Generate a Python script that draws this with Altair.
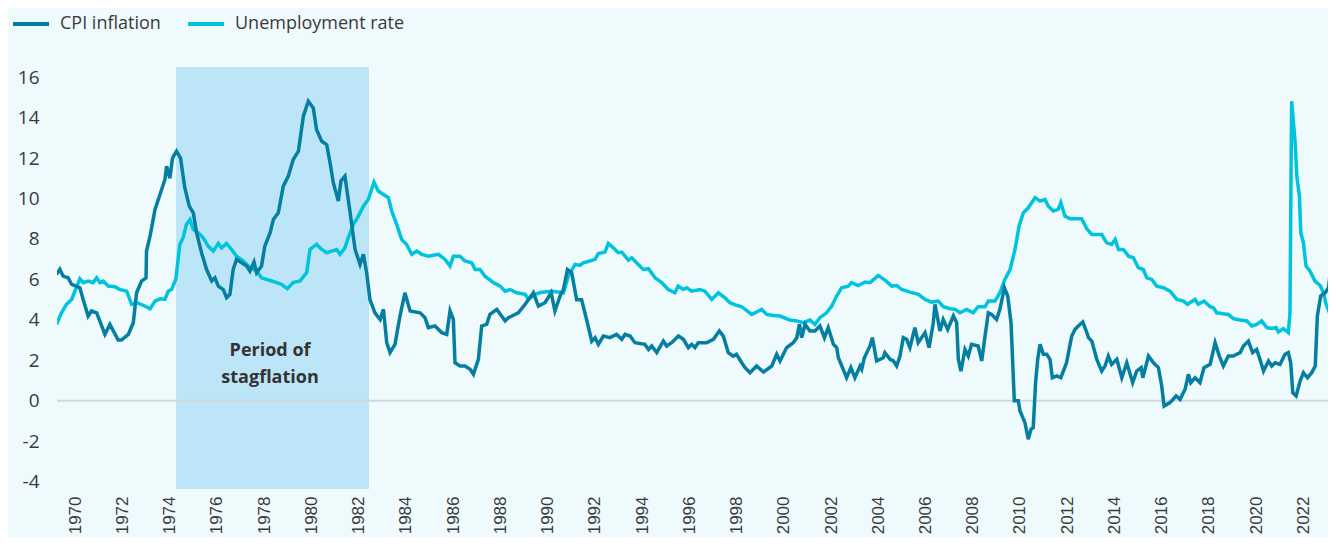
import altair as alt
import pandas as pd

# ---- data ----
cpi_years = [1969.21, 1969.35, 1969.49, 1969.70, 1969.85, 1970.20, 1970.34, 1970.55, 1970.69, 1970.91,
             1971.26, 1971.47, 1971.82, 1971.96, 1972.25, 1972.46, 1972.60, 1972.81, 1973.00, 1973.02,
             1973.17, 1973.38, 1973.59, 1973.80, 1973.87, 1974.01, 1974.12, 1974.29, 1974.46, 1974.64,
             1974.83, 1975.00, 1975.14, 1975.35, 1975.56, 1975.78, 1975.92, 1976.06, 1976.27, 1976.41,
             1976.55, 1976.69, 1976.83, 1977.05, 1977.26, 1977.40, 1977.57, 1977.68, 1977.89, 1978.03,
             1978.25, 1978.39, 1978.60, 1978.81, 1979.02, 1979.23, 1979.45, 1979.66, 1979.87, 1980.08,
             1980.22, 1980.44, 1980.65, 1980.79, 1980.93, 1981.14, 1981.25, 1981.42, 1981.64, 1981.85,
             1982.06, 1982.20, 1982.34, 1982.48, 1982.69, 1982.91, 1983.05, 1983.19, 1983.33, 1983.54,
             1983.75, 1983.96, 1984.18, 1984.60, 1984.81, 1984.95, 1985.23, 1985.52, 1985.73, 1985.87,
             1986.01, 1986.08, 1986.29, 1986.50, 1986.72, 1986.86, 1987.07, 1987.21, 1987.42, 1987.56,
             1987.85, 1988.20, 1988.34, 1988.76, 1989.05, 1989.40, 1989.61, 1989.89, 1990.15, 1990.31,
             1990.53, 1990.67, 1990.84, 1991.02, 1991.23, 1991.44, 1991.65, 1991.87, 1992.01, 1992.15,
             1992.36, 1992.64, 1992.92, 1993.14, 1993.28, 1993.49, 1993.70, 1994.12, 1994.27, 1994.41,
             1994.62, 1994.90, 1995.04, 1995.25, 1995.54, 1995.75, 1995.96, 1996.10, 1996.24, 1996.38,
             1996.73, 1997.02, 1997.27, 1997.44, 1997.65, 1997.86, 1998.00, 1998.22, 1998.36, 1998.57,
             1998.85, 1999.14, 1999.49, 1999.70, 1999.84, 2000.12, 2000.40, 2000.55, 2000.66, 2000.76,
             2000.90, 2001.11, 2001.32, 2001.53, 2001.72, 2001.88, 2002.10, 2002.24, 2002.31, 2002.66,
             2002.84, 2003.01, 2003.23, 2003.30, 2003.41, 2003.65, 2003.75, 2003.93, 2004.21, 2004.28,
             2004.50, 2004.64, 2004.78, 2004.92, 2005.06, 2005.20, 2005.34, 2005.55, 2005.69, 2005.98,
             2006.15, 2006.33, 2006.40, 2006.51, 2006.61, 2006.75, 2006.94, 2007.18, 2007.32, 2007.39,
             2007.50, 2007.67, 2007.81, 2007.95, 2008.23, 2008.38, 2008.52, 2008.66, 2008.80, 2009.01,
             2009.15, 2009.34, 2009.48, 2009.62, 2009.76, 2009.93, 2010.00, 2010.21, 2010.35, 2010.47,
             2010.56, 2010.66, 2010.75, 2010.85, 2010.99, 2011.13, 2011.27, 2011.37, 2011.55, 2011.73,
             2011.97, 2012.19, 2012.33, 2012.47, 2012.66, 2012.83, 2012.90, 2013.04, 2013.25, 2013.46,
             2013.60, 2013.74, 2013.88, 2014.10, 2014.31, 2014.52, 2014.77, 2014.94, 2015.13, 2015.20,
             2015.44, 2015.65, 2015.86, 2016.00, 2016.10, 2016.35, 2016.61, 2016.78, 2016.99, 2017.13,
             2017.23, 2017.41, 2017.62, 2017.79, 2018.05, 2018.26, 2018.44, 2018.61, 2018.82, 2019.03,
             2019.32, 2019.46, 2019.67, 2019.85, 2020.02, 2020.16, 2020.31, 2020.52, 2020.66, 2020.80,
             2021.01, 2021.22, 2021.36, 2021.46, 2021.55, 2021.69, 2021.86, 2022.00, 2022.17, 2022.35,
             2022.50, 2022.59, 2022.73, 2022.92, 2023.06, 2023.20, 2023.38]
cpi_values = [6.25, 6.5, 6.16, 6.08, 5.75, 5.59, 5.0, 4.19, 4.44, 4.35,
              3.28, 3.78, 3.0, 3.0, 3.28, 3.86, 5.34, 5.92, 6.08, 7.4,
              8.14, 9.46, 10.2, 10.94, 11.6, 11.0, 12.0, 12.34, 12.0, 10.53,
              9.62, 9.29, 8.3, 7.32, 6.5, 5.92, 6.08, 5.67, 5.5, 5.1,
              5.26, 6.5, 6.99, 6.82, 6.66, 6.41, 6.86, 6.33, 6.66, 7.65,
              8.3, 8.96, 9.29, 10.61, 11.1, 11.92, 12.34, 14.07, 14.81, 14.48,
              13.4, 12.83, 12.66, 11.76, 10.77, 9.87, 10.86, 11.1, 9.29, 7.48,
              6.74, 7.24, 6.33, 5.0, 4.35, 4.02, 4.52, 2.87, 2.38, 2.79,
              4.19, 5.34, 4.44, 4.35, 4.11, 3.62, 3.7, 3.37, 3.28, 4.44,
              4.02, 1.88, 1.72, 1.72, 1.56, 1.31, 2.05, 3.7, 3.78, 4.27,
              4.52, 3.95, 4.11, 4.35, 4.77, 5.34, 4.68, 4.85, 5.34, 4.44,
              5.18, 5.5, 6.49, 6.33, 5.0, 5.0, 4.02, 2.95, 3.12, 2.79,
              3.2, 3.12, 3.28, 3.04, 3.28, 3.2, 2.87, 2.79, 2.54, 2.71,
              2.38, 2.95, 2.71, 2.87, 3.2, 3.04, 2.63, 2.79, 2.63, 2.87,
              2.87, 3.04, 3.45, 3.2, 2.38, 2.21, 2.3, 1.88, 1.64, 1.39,
              1.72, 1.42, 1.72, 2.3, 1.97, 2.63, 2.87, 3.12, 3.78, 3.12,
              3.78, 3.45, 3.45, 3.7, 3.12, 3.62, 2.79, 2.63, 2.13, 1.14,
              1.64, 1.14, 1.72, 1.56, 2.13, 2.71, 3.12, 1.97, 2.13, 2.38,
              2.05, 1.97, 1.72, 2.21, 3.12, 3.04, 2.63, 3.62, 2.87, 3.37,
              2.63, 3.86, 4.77, 4.11, 3.45, 4.02, 3.53, 4.19, 3.86, 2.05,
              1.47, 2.54, 2.21, 2.79, 2.71, 1.97, 3.2, 4.35, 4.27, 4.02,
              4.52, 5.59, 5.18, 3.86, 0.0, 0.0, -0.5, -1.08, -1.9, -1.4,
              -1.33, 0.9, 2.05, 2.79, 2.3, 2.3, 2.05, 1.14, 1.23, 1.14,
              1.88, 3.2, 3.53, 3.7, 3.9, 3.37, 3.12, 2.95, 2.05, 1.47,
              1.72, 2.21, 1.8, 2.05, 1.14, 1.88, 0.9, 1.47, 1.64, 1.14,
              2.21, 1.88, 1.64, 0.73, -0.26, -0.09, 0.24, 0.07, 0.57, 1.31,
              0.9, 1.14, 0.9, 1.64, 1.8, 2.87, 2.21, 1.72, 2.21, 2.21,
              2.38, 2.71, 2.95, 2.38, 2.54, 2.05, 1.47, 1.97, 1.72, 1.88,
              1.8, 2.3, 2.38, 1.88, 0.4, 0.24, 0.98, 1.39, 1.14, 1.39,
              1.72, 4.19, 5.18, 5.34, 5.59, 6.91, 7.81]

unemp_years = [1969.21, 1969.42, 1969.63, 1969.85, 1969.99, 1970.20, 1970.34, 1970.55, 1970.76, 1970.91,
               1971.05, 1971.19, 1971.40, 1971.68, 1971.89, 1972.18, 1972.39, 1972.60, 1972.88, 1973.17,
               1973.38, 1973.59, 1973.80, 1973.94, 1974.08, 1974.26, 1974.43, 1974.57, 1974.71, 1974.86,
               1975.00, 1975.21, 1975.42, 1975.63, 1975.85, 1976.06, 1976.20, 1976.41, 1976.62, 1976.83,
               1977.12, 1977.33, 1977.68, 1977.89, 1978.10, 1978.32, 1978.53, 1978.74, 1978.98, 1979.23,
               1979.52, 1979.73, 1979.80, 1979.94, 1980.22, 1980.44, 1980.65, 1980.86, 1981.07, 1981.21,
               1981.42, 1981.56, 1981.78, 1981.99, 1982.20, 1982.41, 1982.65, 1982.83, 1983.05, 1983.26,
               1983.40, 1983.61, 1983.82, 1984.03, 1984.25, 1984.46, 1984.67, 1984.95, 1985.38, 1985.66,
               1985.87, 1986.01, 1986.29, 1986.50, 1986.79, 1986.93, 1987.14, 1987.35, 1987.71, 1987.99,
               1988.20, 1988.41, 1988.69, 1989.05, 1989.19, 1989.47, 1989.75, 1990.17, 1990.53, 1990.67,
               1990.88, 1991.16, 1991.37, 1991.51, 1991.79, 1992.01, 1992.15, 1992.43, 1992.57, 1992.78,
               1992.99, 1993.14, 1993.42, 1993.56, 1993.84, 1994.05, 1994.27, 1994.55, 1994.83, 1995.11,
               1995.39, 1995.53, 1995.75, 1995.89, 1996.10, 1996.45, 1996.66, 1996.95, 1997.23, 1997.51,
               1997.72, 1998.00, 1998.22, 1998.64, 1998.85, 1999.06, 1999.28, 1999.56, 1999.84, 2000.26,
               2000.55, 2000.83, 2001.11, 2001.32, 2001.53, 2001.81, 2002.03, 2002.24, 2002.45, 2002.73,
               2002.87, 2003.15, 2003.44, 2003.65, 2004.00, 2004.28, 2004.57, 2004.78, 2004.99, 2005.34,
               2005.70, 2005.98, 2006.26, 2006.54, 2006.75, 2007.04, 2007.25, 2007.46, 2007.74, 2008.02,
               2008.23, 2008.52, 2008.66, 2008.94, 2009.15, 2009.36, 2009.58, 2009.79, 2009.96, 2010.14,
               2010.35, 2010.64, 2010.85, 2011.06, 2011.20, 2011.41, 2011.62, 2011.73, 2011.90, 2012.12,
               2012.30, 2012.61, 2012.83, 2013.04, 2013.46, 2013.67, 2013.88, 2014.03, 2014.17, 2014.38,
               2014.59, 2014.80, 2015.01, 2015.22, 2015.37, 2015.58, 2015.79, 2016.07, 2016.35, 2016.64,
               2016.92, 2017.09, 2017.41, 2017.55, 2017.79, 2018.05, 2018.19, 2018.33, 2018.61, 2018.82,
               2019.03, 2019.32, 2019.60, 2019.81, 2020.02, 2020.23, 2020.45, 2020.66, 2020.84, 2020.94,
               2021.15, 2021.36, 2021.43, 2021.50, 2021.65, 2021.72, 2021.83, 2021.89, 2022.00, 2022.11,
               2022.28, 2022.49, 2022.71, 2022.85, 2022.96, 2023.13, 2023.27, 2023.38]
unemp_values = [3.78, 4.35, 4.77, 5.01, 5.42, 6.03, 5.84, 5.92, 5.84, 6.08,
                5.84, 5.92, 5.67, 5.64, 5.5, 5.42, 4.77, 4.85, 4.72, 4.55,
                4.93, 5.04, 5.01, 5.42, 5.5, 6.0, 7.73, 8.06, 8.72, 8.96,
                8.47, 8.3, 8.06, 7.65, 7.4, 7.78, 7.56, 7.78, 7.48, 7.15,
                6.91, 6.66, 6.41, 6.08, 6.0, 5.92, 5.84, 5.75, 5.54, 5.84,
                5.92, 6.24, 6.33, 7.48, 7.73, 7.48, 7.32, 7.4, 7.48, 7.24,
                7.56, 8.06, 8.72, 9.13, 9.62, 9.95, 10.81, 10.37, 10.2, 10.04,
                9.38, 8.72, 7.98, 7.73, 7.24, 7.4, 7.24, 7.15, 7.24, 6.99,
                6.66, 7.15, 7.15, 6.91, 6.82, 6.49, 6.49, 6.16, 5.84, 5.67,
                5.42, 5.5, 5.34, 5.26, 5.01, 5.26, 5.37, 5.42, 5.37, 5.34,
                6.16, 6.74, 6.69, 6.82, 6.91, 6.99, 7.28, 7.35, 7.78, 7.56,
                7.32, 7.35, 6.95, 7.07, 6.74, 6.49, 6.53, 6.08, 5.84, 5.5,
                5.34, 5.67, 5.5, 5.59, 5.42, 5.5, 5.42, 5.01, 5.34, 5.09,
                4.85, 4.72, 4.65, 4.27, 4.39, 4.52, 4.27, 4.22, 4.19, 3.99,
                3.95, 3.86, 3.99, 3.78, 4.11, 4.35, 4.68, 5.18, 5.59, 5.67,
                5.84, 5.7, 5.87, 5.84, 6.2, 5.97, 5.67, 5.7, 5.5, 5.37,
                5.26, 5.01, 4.88, 4.93, 4.65, 4.55, 4.52, 4.35, 4.52, 4.35,
                4.65, 4.65, 4.93, 4.93, 5.34, 6.0, 6.49, 7.48, 8.63, 9.29,
                9.54, 10.04, 9.87, 9.95, 9.62, 9.38, 9.46, 9.79, 9.13, 9.0,
                9.0, 9.0, 8.5, 8.22, 8.22, 7.81, 7.73, 7.98, 7.48, 7.48,
                7.15, 7.07, 6.58, 6.49, 6.08, 6.0, 5.67, 5.59, 5.42, 5.01,
                4.93, 4.77, 5.01, 4.77, 4.93, 4.65, 4.6, 4.35, 4.3, 4.27,
                4.06, 3.99, 3.95, 3.7, 3.78, 3.95, 3.62, 3.57, 3.62, 3.4,
                3.57, 3.37, 4.35, 14.81, 12.75, 11.1, 10.12, 8.3, 7.81, 6.66,
                6.41, 5.92, 5.7, 5.34, 4.77, 4.27, 3.86, 3.83]

series_names = ["CPI inflation", "Unemployment rate"]
series_colors = ["#067ea2", "#00c3dc"]

x_ticks = list(range(1970, 2023, 2))
y_ticks = [-4, -2, 0, 2, 4, 6, 8, 10, 12, 14, 16]
x_domain = [1969.23, 2023.04]
y_domain = [-4.36, 16.5]

stag_start = [1974.27]
stag_end = [1982.44]
stag_label = ["Period of", "stagflation"]
stag_label_x = [1978.25]
stag_label_y = [2.48]

# ---- tables ----
cpi_df = pd.DataFrame({"year": cpi_years, "value": cpi_values, "series": series_names[0]})
une_df = pd.DataFrame({"year": unemp_years, "value": unemp_values, "series": series_names[1]})
rect_df = pd.DataFrame({"x": stag_start, "x2": stag_end, "y": [y_domain[0]], "y2": [y_domain[1]]})
text_df = pd.DataFrame({"x": stag_label_x, "y": stag_label_y})
zero_df = pd.DataFrame({"y": [0]})

x_scale = alt.Scale(domain=x_domain, nice=False, zero=False)
y_scale = alt.Scale(domain=y_domain, nice=False, zero=False)
color_scale = alt.Scale(domain=series_names, range=series_colors)

x_axis = alt.Axis(values=x_ticks, format="d", labelAngle=-90, labelAlign="right", labelBaseline="middle",
                  labelPadding=7, ticks=False, domain=False, grid=False, title=None,
                  labelFont="Liberation Sans", labelFontSize=17, labelColor="#3a3a3a")
y_axis = alt.Axis(values=y_ticks, labelExpr="'' + datum.value", ticks=False, domain=False, grid=False,
                  title=None, labelPadding=18, labelFont="Open Sans", labelFontSize=19,
                  labelColor="#3a3a3a")

rect = alt.Chart(rect_df).mark_rect(color="#bde5f8").encode(
    x=alt.X("x:Q", scale=x_scale, axis=x_axis),
    x2="x2:Q",
    y=alt.Y("y:Q", scale=y_scale, axis=y_axis),
    y2="y2:Q",
)

text = alt.Chart(text_df).mark_text(
    text=stag_label, font="Open Sans", fontWeight="bold", fontSize=18, color="#333333",
    align="center", baseline="middle", lineHeight=27,
).encode(x=alt.X("x:Q", scale=x_scale), y=alt.Y("y:Q", scale=y_scale))

zero = alt.Chart(zero_df).mark_rule(color="#d6d6da", strokeWidth=2).encode(
    y=alt.Y("y:Q", scale=y_scale)
)

legend = alt.Legend(
    title=None, orient="none", legendX=-46, legendY=-63, direction="horizontal",
    symbolType="stroke", symbolSize=1296, symbolStrokeWidth=4, labelFont="Open Sans",
    labelFontSize=18, labelColor="#3a3a3a", labelOffset=9, columnPadding=19, padding=0,
    labelLimit=0,
)

une_line = alt.Chart(une_df).mark_line(strokeWidth=3.5, clip=True).encode(
    x=alt.X("year:Q", scale=x_scale),
    y=alt.Y("value:Q", scale=y_scale),
    color=alt.Color("series:N", scale=color_scale, legend=legend),
)
cpi_line = alt.Chart(cpi_df).mark_line(strokeWidth=3.5, clip=True).encode(
    x=alt.X("year:Q", scale=x_scale),
    y=alt.Y("value:Q", scale=y_scale),
    color=alt.Color("series:N", scale=color_scale, legend=legend),
)

chart = alt.layer(rect, text, zero, une_line, cpi_line).properties(
    width=1271, height=422,
    autosize=alt.AutoSizeParams(type="none"),
    padding={"left": 49, "top": 59, "right": 0, "bottom": 48},
    background="#effafd",
).configure_view(stroke=None)

chart.save("out.html", embed_options={"renderer": "svg", "actions": False})
